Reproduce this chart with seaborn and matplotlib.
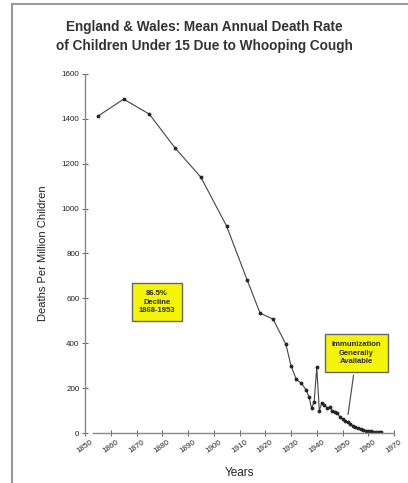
import numpy as np
import pandas as pd
import matplotlib
matplotlib.use("Agg")
import matplotlib.pyplot as plt
from matplotlib.patches import Rectangle
import seaborn as sns

# Mean annual death rate, children under 15, whooping cough (England & Wales)
years = [1855, 1865, 1875, 1885, 1895, 1905, 1913, 1918, 1923, 1928,
         1930, 1932, 1934, 1936, 1937, 1938, 1939, 1940, 1941, 1942,
         1943, 1944, 1945, 1946, 1947, 1948, 1949, 1950, 1951, 1952,
         1953, 1954, 1955, 1956, 1957, 1958, 1959, 1960, 1961, 1962,
         1963, 1964, 1965]
deaths = [1412, 1488, 1421, 1270, 1140, 922, 681, 534, 508, 396,
          300, 240, 222, 190, 160, 110, 140, 292, 100, 135,
          125, 112, 115, 100, 95, 88, 72, 62, 55, 48,
          40, 33, 27, 21, 16, 13, 10, 8, 7, 6,
          5, 4, 3]

x_ticks = list(range(1850, 1971, 10))
y_ticks = list(range(0, 1601, 200))

title_lines = ["England & Wales: Mean Annual Death Rate",
               "of Children Under 15 Due to Whooping Cough"]
note_decline = "86.5%\nDecline\n1868-1953"
note_vaccine = "Immunization\nGenerally\nAvailable"

df = pd.DataFrame({"year": years, "deaths": deaths})

sns.set_style("ticks")
plt.rcParams["font.family"] = ["Liberation Sans", "DejaVu Sans"]

fig = plt.figure(figsize=(4.08, 4.83), dpi=100)
ax = fig.add_axes([85 / 408, 1 - 433 / 483, (394 - 85) / 408, (433 - 74) / 483])

sns.lineplot(data=df, x="year", y="deaths", ax=ax, color="#444444",
             linewidth=0.8, marker="o", markersize=2.0,
             markerfacecolor="#222222", markeredgecolor="#222222")

ax.set_xlim(1850, 1970)
ax.set_ylim(0, 1600)
ax.set_xticks(x_ticks)
ax.set_yticks(y_ticks)
ax.set_xticklabels([str(t) for t in x_ticks], rotation=35, fontsize=5.8)
ax.set_yticklabels([str(t) for t in y_ticks], fontsize=5.8)
ax.tick_params(direction="inout", length=4, width=0.7, colors="#666666",
               labelcolor="#222222", pad=2)

for side in ["top", "right"]:
    ax.spines[side].set_visible(False)
ax.spines["left"].set_color("#888888")
ax.spines["bottom"].set_color("#888888")
ax.spines["left"].set_linewidth(1.0)
ax.spines["bottom"].set_linewidth(1.0)
ax.spines["bottom"].set_bounds(1853, 1970)

ax.set_xlabel("Years", fontsize=8.5, labelpad=9, color="#222222")
ax.set_ylabel("Deaths Per Million Children", fontsize=8, labelpad=10,
              color="#222222")

for i, line in enumerate(title_lines):
    fig.text(0.5, 1 - (27 + 19 * i) / 483, line, ha="center", va="center",
             fontsize=9.8, fontweight="bold", color="#333333")

box_style = dict(boxstyle="square,pad=0.85", facecolor="#f5f50a",
                 edgecolor="#666666", linewidth=1.0)
ax.text(1878, 583, note_decline, ha="center", va="center", fontsize=5.5,
        fontweight="bold", bbox=box_style, linespacing=1.35)
ax.annotate(note_vaccine, xy=(1952, 70), xytext=(1955.5, 356),
            ha="center", va="center", fontsize=5.5, fontweight="bold",
            bbox=box_style, linespacing=1.35,
            arrowprops=dict(arrowstyle="-", color="#555555", linewidth=0.9))

# grey frame from the scanned page (left and top edge only)
fig.patches.append(Rectangle((12 / 408, -0.1), 1.2, 1.1 - 4 / 483,
                             transform=fig.transFigure, fill=False,
                             edgecolor="#999999", linewidth=1.5))

fig.savefig("out.png", dpi=100)
